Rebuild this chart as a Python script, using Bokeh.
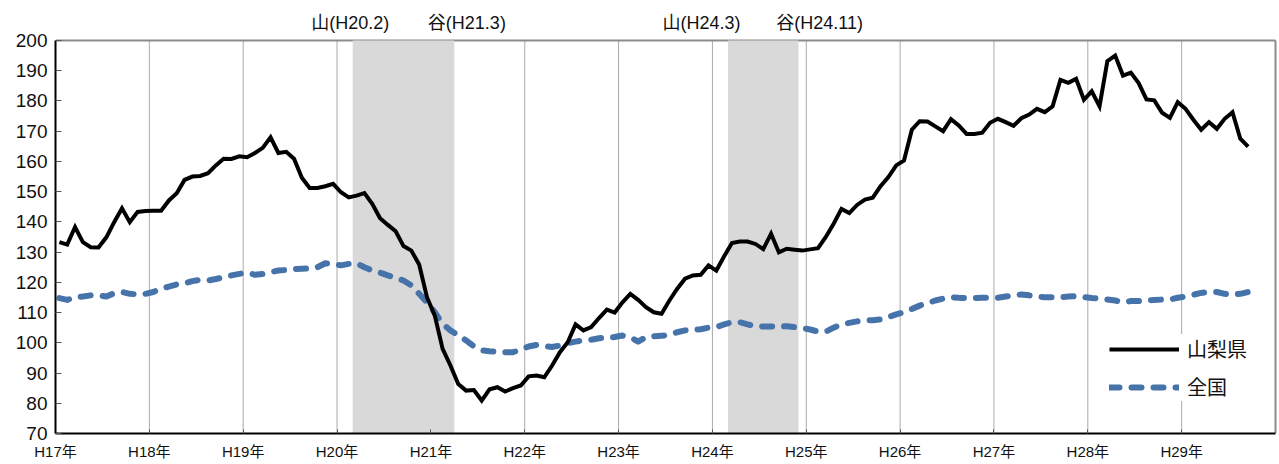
from bokeh.plotting import figure
from bokeh.models import Range1d, FixedTicker, Legend, LegendItem
from bokeh.core.properties import value
from bokeh.embed import file_html
from bokeh.resources import INLINE

# ---- data (monthly, H17.1 .. H29.9) ----
year_labels = ["H17年", "H18年", "H19年", "H20年", "H21年", "H22年", "H23年",
               "H24年", "H25年", "H26年", "H27年", "H28年", "H29年"]

yamanashi = [133.3, 132.5, 138.3, 133.3, 131.6, 131.5, 134.9, 139.9, 144.5, 139.9, 143.3, 143.6,
             143.7, 143.7, 147.1, 149.5, 153.9, 155.0, 155.2, 156.1, 158.7, 160.9, 160.8, 161.7,
             161.4, 162.8, 164.5, 168.0, 162.8, 163.2, 160.9, 154.6, 151.2, 151.2, 151.8, 152.6,
             149.8, 148.1, 148.7, 149.5, 146.0, 141.2, 139.0, 136.9, 132.0, 130.5, 125.9, 115.1,
             109.0, 98.0, 92.5, 86.4, 84.2, 84.4, 80.9, 84.6, 85.3, 83.9, 85.0, 85.9,
             88.9, 89.2, 88.6, 92.5, 96.9, 100.2, 106.1, 104.1, 105.2, 108.2, 111.0, 110.0,
             113.4, 116.2, 114.2, 111.8, 110.1, 109.6, 114.0, 117.9, 121.2, 122.3, 122.5, 125.6,
             123.9, 128.6, 133.0, 133.5, 133.5, 132.7, 131.0, 136.1, 129.9, 131.1, 130.8, 130.5,
             130.9, 131.3, 135.0, 139.4, 144.3, 142.9, 145.6, 147.4, 148.0, 151.8, 154.8, 158.7,
             160.3, 170.5, 173.3, 173.2, 171.6, 170.0, 174.0, 171.9, 169.1, 169.1, 169.5, 172.8,
             174.1, 173.0, 171.8, 174.3, 175.5, 177.4, 176.3, 178.2, 187.0, 186.0, 187.3, 180.4,
             183.2, 178.2, 193.2, 195.0, 188.4, 189.4, 185.9, 180.5, 180.2, 176.1, 174.4, 179.6,
             177.4, 173.8, 170.5, 173.0, 170.8, 174.1, 176.3, 167.5, 164.9]

zenkoku = [114.8, 114.2, 115.1, 115.3, 115.7, 115.7, 115.3, 116.4, 116.8, 116.2, 116.0, 116.2,
           116.8, 117.9, 118.6, 119.3, 119.7, 120.4, 120.8, 120.6, 121.1, 121.7, 122.3, 122.8,
           123.2, 122.5, 122.8, 123.4, 123.9, 124.1, 124.4, 124.5, 124.6, 125.0, 126.3, 126.1,
           125.6, 126.1, 126.3, 125.0, 123.9, 123.2, 122.3, 121.5, 120.6, 119.0, 116.2, 113.4,
           110.1, 106.3, 104.1, 102.5, 100.8, 98.8, 97.5, 97.2, 97.1, 96.9, 96.9, 97.7,
           98.8, 99.3, 98.9, 98.6, 99.1, 99.9, 100.4, 100.8, 101.0, 101.5, 101.7, 101.9,
           102.4, 101.9, 100.4, 101.9, 102.2, 102.3, 102.7, 103.5, 104.1, 104.3, 104.5, 105.0,
           105.2, 106.1, 106.8, 106.8, 106.1, 105.5, 105.4, 105.4, 105.4, 105.5, 105.2, 104.9,
           104.4, 103.7, 103.7, 105.0, 106.1, 106.6, 107.1, 107.4, 107.5, 107.7, 108.5, 109.4,
           110.1, 111.2, 112.3, 113.1, 114.0, 114.6, 115.1, 114.9, 114.8, 114.8, 114.9, 114.9,
           114.9, 115.3, 115.7, 116.0, 115.7, 115.3, 115.1, 115.1, 115.1, 115.3, 115.4, 115.1,
           114.8, 114.6, 114.3, 114.0, 113.4, 113.8, 113.8, 114.0, 114.2, 114.3, 114.3, 114.9,
           115.3, 115.9, 116.5, 116.8, 116.8, 116.2, 116.0, 116.2, 116.8]

# recession shading (month index) and peak/trough labels
shade_start = [38, 86]
shade_end = [51, 95]
turn_labels = ["山(H20.2)", "谷(H21.3)", "山(H24.3)", "谷(H24.11)"]
turn_label_x = [37.7, 52.6, 82.6, 97.7]

Y_MIN, Y_MAX = 70, 200
n_months = len(year_labels) * 12
x = [i + 0.5 for i in range(len(yamanashi))]
x2 = [i + 0.5 for i in range(len(zenkoku))]

JP = "Liberation Sans, Noto Sans CJK JP, sans-serif"

# layout: frame spans to the canvas top so the turning-point labels fit above the 200 line
W, H = 1277, 462
LEFT, BOTTOM = 55, 29
plot_h = H - BOTTOM                  # 433 px
px_per_unit = (plot_h - 40) / (Y_MAX - Y_MIN)
y_top = Y_MAX + 40 / px_per_unit
px_per_month = 1220 / n_months
x_end = (W - LEFT) / px_per_month

p = figure(width=W, height=H, x_range=Range1d(0, x_end), y_range=Range1d(Y_MIN, y_top),
           output_backend="svg", toolbar_location=None,
           min_border_left=LEFT, min_border_right=0, min_border_top=0, min_border_bottom=BOTTOM)
p.background_fill_color = "white"
p.border_fill_color = "white"
p.outline_line_color = None
p.xgrid.grid_line_color = None
p.ygrid.grid_line_color = None

year_ticks = [i * 12 for i in range(len(year_labels))]

# vertical dotted year gridlines
p.segment(x0=year_ticks[1:], x1=year_ticks[1:], y0=Y_MIN, y1=Y_MAX,
          line_color="#555555", line_width=1, line_dash="1 1")
# frame border (top and right)
p.segment(x0=[0, n_months], x1=[n_months, n_months], y0=[Y_MAX, Y_MIN], y1=[Y_MAX, Y_MAX],
          line_color="#8C8C8C", line_width=2)

# shading
p.quad(left=shade_start, right=shade_end, bottom=Y_MIN, top=Y_MAX,
       fill_color="#D9D9D9", line_color=None)

r_zen = p.line(x2, zenkoku, line_color="#4673AA", line_width=6, line_dash="10 12",
               line_cap="round", line_join="round")
r_yam = p.line(x, yamanashi, line_color="black", line_width=4, line_join="miter")

# turning-point labels above the frame
p.text(x=turn_label_x, y=[Y_MAX] * len(turn_labels), text=turn_labels, y_offset=-8,
       text_align="center", text_baseline="bottom",
       text_font=value(JP), text_font_size="18px", text_color="#111111")

# axes
p.xaxis.ticker = FixedTicker(ticks=year_ticks)
p.xaxis.major_label_overrides = {t: lab for t, lab in zip(year_ticks, year_labels)}
p.xaxis.major_tick_in = 4
p.xaxis.major_tick_out = 0
p.xaxis.minor_tick_line_color = None
p.xaxis.axis_line_color = "black"
p.xaxis.axis_line_width = 2
p.xaxis.bounds = (0, n_months)
p.xaxis.major_tick_line_color = "#555555"
p.xaxis.major_label_text_font = JP
p.xaxis.major_label_text_font_size = "15px"
p.xaxis.major_label_text_color = "#111111"
p.xaxis.major_label_standoff = 9

p.yaxis.ticker = FixedTicker(ticks=list(range(Y_MIN, Y_MAX + 1, 10)))
p.yaxis.bounds = (Y_MIN, Y_MAX)
p.yaxis.major_tick_in = 6
p.yaxis.major_tick_out = 0
p.yaxis.minor_tick_line_color = None
p.yaxis.axis_line_color = "black"
p.yaxis.axis_line_width = 2
p.yaxis.major_tick_line_color = "#555555"
p.yaxis.major_label_text_font = "Liberation Sans"
p.yaxis.major_label_text_font_size = "19px"
p.yaxis.major_label_text_color = "#111111"
p.yaxis.major_label_standoff = 8

legend = Legend(items=[LegendItem(label="山梨県", renderers=[r_yam]),
                       LegendItem(label="全国", renderers=[r_zen])],
                location=(1054, 32), orientation="vertical",
                glyph_width=70, glyph_height=20, label_height=20,
                label_standoff=8, spacing=9, padding=10, margin=0,
                border_line_color=None, background_fill_color="white",
                background_fill_alpha=1.0,
                label_text_font="Noto Sans CJK JP", label_text_font_size="20px",
                label_text_color="#111111")
p.add_layout(legend)

open("out.html", "w").write(file_html(p, INLINE))
